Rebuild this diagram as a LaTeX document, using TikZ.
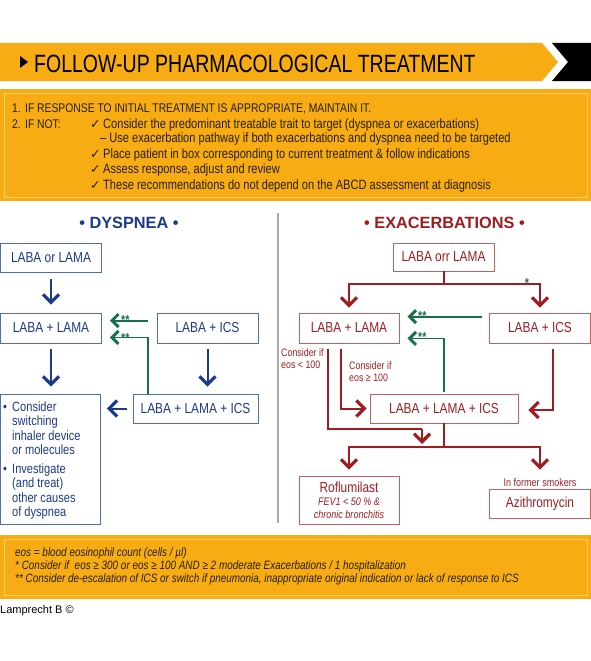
\documentclass[tikz,border=0pt]{standalone}
\usepackage{fontspec}
\setmainfont{Liberation Sans}[FakeStretch=0.82]
\newfontfamily\headfont{Liberation Sans}[FakeStretch=0.78]
\newfontfamily\plainfont{Liberation Sans}
\newfontfamily\symfont{DejaVu Sans}
\usetikzlibrary{arrows.meta,calc}
\definecolor{gold}{RGB}{246,172,18}
\definecolor{goldline}{RGB}{252,210,100}
\definecolor{navy}{RGB}{28,58,140}
\definecolor{navybox}{RGB}{80,110,175}
\definecolor{dred}{RGB}{160,28,32}
\definecolor{redbox}{RGB}{200,95,95}
\definecolor{dgreen}{RGB}{22,112,72}
\definecolor{divgray}{RGB}{170,170,170}
\definecolor{txt}{RGB}{40,32,10}
\tikzset{
  bluebox/.style={draw=navybox, line width=0.8pt, text=navy, inner sep=0pt, font=\fontsize{14.5}{16}\selectfont},
  redboxs/.style={draw=redbox, line width=0.8pt, text=dred, inner sep=0pt, font=\fontsize{14.5}{16}\selectfont},
  bchev/.style={draw=navy, line width=2pt, -{Straight Barb[length=8pt,width=16pt,line width=3.2pt]}},
  rchev/.style={draw=dred, line width=2pt, -{Straight Barb[length=8pt,width=16pt,line width=3.2pt]}},
  rline/.style={draw=dred, line width=2pt},
  gchev/.style={draw=dgreen, line width=1.8pt, -{Straight Barb[length=6.5pt,width=13pt,line width=3pt]}},
  ins/.style={anchor=base west, inner sep=0pt, text=txt, font=\fontsize{13.5}{15}\selectfont},
  inscap/.style={anchor=base west, inner sep=0pt, text=txt, font=\fontsize{12.6}{15}\selectfont},
  chk/.style={anchor=base west, inner sep=0pt, text=txt, font=\symfont\fontsize{12.5}{14}\selectfont},
  foot/.style={anchor=base west, inner sep=0pt, text=txt, font=\fontsize{12.1}{13}\selectfont\itshape},
  bl/.style={anchor=base west, inner sep=0pt, text=navy, font=\fontsize{13.5}{15}\selectfont},
  small/.style={anchor=base west, inner sep=0pt, text=dred, font=\fontsize{10.8}{12}\selectfont},
  stars/.style={anchor=base west, inner sep=0pt, text=dgreen, font=\fontsize{13}{14}\selectfont\bfseries},
}
\begin{document}
\begin{tikzpicture}[x=1pt,y=-1pt]
\useasboundingbox (0,0) rectangle (591,661);
% header
\fill[gold] (0,43) -- (542,43) -- (558,62) -- (542,81) -- (0,81) -- cycle;
\fill[black] (552,43) -- (591,43) -- (591,81) -- (552,81) -- (568,62) -- cycle;
\fill[black] (20,56) -- (28,62) -- (20,68) -- cycle;
\node[anchor=base west, inner sep=0pt, font=\headfont\fontsize{25}{28}\selectfont] (title) at (34,72) {FOLLOW-UP PHARMACOLOGICAL TREATMENT};
% instruction box
\fill[gold] (0,89) rectangle (591,201);
\draw[goldline, line width=0.9pt] (4,93) rectangle (587,197);
\node[inscap] (i1a) at (12,112) {1.};
\node[inscap] (i1b) at (25,112) {IF RESPONSE TO INITIAL TREATMENT IS APPROPRIATE, MAINTAIN IT.};
\node[inscap] (i2a) at (12,128) {2.};
\node[inscap] (i2b) at (25,128) {IF NOT:};
\node[chk] (c1) at (90,128) {✓};
\node[ins] (i2c) at (103,128) {Consider the predominant treatable trait to target (dyspnea or exacerbations)};
\node[ins] (i3) at (100,142) {– Use exacerbation pathway if both exacerbations and dyspnea need to be targeted};
\node[chk] (c2) at (90,158) {✓};
\node[ins] (i4) at (103,158) {Place patient in box corresponding to current treatment \& follow indications};
\node[chk] (c3) at (90,173) {✓};
\node[ins] (i5) at (103,173) {Assess response, adjust and review};
\node[chk] (c4) at (90,189) {✓};
\node[ins] (i6) at (103,189) {These recommendations do not depend on the ABCD assessment at diagnosis};
% section titles
\node[anchor=base, inner sep=0pt, text=navy, font=\plainfont\bfseries\fontsize{16.3}{18}\selectfont] (td) at (129,228) {• DYSPNEA •};
\node[anchor=base, inner sep=0pt, text=dred, font=\plainfont\bfseries\fontsize{16.3}{18}\selectfont] (te) at (444.5,228) {• EXACERBATIONS •};
\draw[divgray, line width=1.5pt] (278,213) -- (278,523);
% dyspnea boxes
\node[bluebox, minimum width=101pt, minimum height=29pt] (A1) at (51,257.5) {LABA or LAMA};
\node[bluebox, minimum width=101pt, minimum height=30pt] (A2) at (51,328) {LABA + LAMA};
\node[bluebox, minimum width=101pt, minimum height=30pt] (A3) at (207.5,328) {LABA + ICS};
\node[bluebox, minimum width=100pt, minimum height=130pt] (A4) at (50.5,459) {};
\node[bluebox, minimum width=125pt, minimum height=29pt] (A5) at (195.5,408.5) {LABA + LAMA + ICS};
\node[bl] (b1) at (3,411) {•};
\node[bl] (l1) at (12,411) {Consider};
\node[bl] (l2) at (12,425) {switching};
\node[bl] (l3) at (12,440) {inhaler device};
\node[bl] (l4) at (12,454) {or molecules};
\node[bl] (b2) at (3,473) {•};
\node[bl] (l5) at (12,473) {Investigate};
\node[bl] (l6) at (12,487) {(and treat)};
\node[bl] (l7) at (12,502) {other causes};
\node[bl] (l8) at (12,516) {of dyspnea};
\draw[bchev, shorten <=7pt, shorten >=8pt] (A1.south) -- (A2.north);
\draw[bchev, shorten <=6pt, shorten >=7pt] (A2.south) -- (A4.north -| A2.south);
\draw[bchev, shorten <=6pt, shorten >=7pt] (A3.south) -- (A3.south |- A5.north);
\draw[bchev, shorten <=6pt, shorten >=6pt] (A5.west) -- (A5.west -| A4.east);
\draw[gchev] ($(A3.north west)+(-9,8)$) -- ($(A2.north east)+(8,8)$);
\draw[gchev] ($(A5.north west)+(15,0)$) |- ($(A2.south east)+(8,-6)$);
\node[stars] (s1) at (121,324) {**};
\node[stars] (s2) at (121,342) {**};
% exacerbation boxes
\node[redboxs, minimum width=101pt, minimum height=28pt] (B1) at (443.5,257) {LABA orr LAMA};
\node[redboxs, minimum width=100pt, minimum height=30pt] (B2) at (349,328) {LABA + LAMA};
\node[redboxs, minimum width=101pt, minimum height=30pt] (B3) at (540,328) {LABA + ICS};
\node[redboxs, minimum width=148pt, minimum height=29pt] (B4) at (444,408.5) {LABA + LAMA + ICS};
\node[redboxs, minimum width=100pt, minimum height=48pt] (B5) at (349,500) {};
\node[anchor=base, inner sep=0pt, text=dred, font=\fontsize{14.5}{16}\selectfont] (r1) at (349,492) {Roflumilast};
\node[anchor=base, inner sep=0pt, text=dred, font=\fontsize{11}{13}\selectfont\itshape] (r2) at (349,505) {FEV1 < 50 \% \&};
\node[anchor=base, inner sep=0pt, text=dred, font=\fontsize{11}{13}\selectfont\itshape] (r3) at (349,518) {chronic bronchitis};
\node[redboxs, minimum width=101pt, minimum height=29pt] (B6) at (540,503.5) {Azithromycin};
\node[anchor=base, inner sep=0pt, text=dred, font=\fontsize{11}{13}\selectfont] (fs) at (540,486) {In former smokers};
% red connectors
\coordinate (j1) at ($(B1.south)+(0,13)$);
\draw[rline] (B1.south) -- (j1);
\draw[rchev, shorten >=5pt] (j1) -| (B2.north);
\draw[rchev, shorten >=5pt] (j1) -| (B3.north);
\node[stars, anchor=base] (s3) at (527,287) {*};
\draw[rchev, shorten >=3pt] ($(B2.south)+(-8,6)$) |- (B4.west);
\coordinate (m) at (422,429);
\draw[rline] ($(B2.south)+(-21,6)$) |- (m);
\draw[rchev] (m) -- (422,444);
\draw[rchev] ($(B3.south)+(13,6)$) |- ($(B4.east)+(10,1.5)$);
\coordinate (j2) at ($(B4.south)+(0,24)$);
\draw[rline] (B4.south) -- (j2);
\draw[rchev, shorten >=6pt] (j2) -| (B5.north);
\draw[rchev] (j2) -| ($(B6.north)+(0,-19)$);
\draw[gchev] ($(B3.north west)+(-7,4)$) -- ($(B2.north east)+(8,4)$);
\draw[gchev, shorten <=2pt] (B4.north) |- ($(B2.south east)+(8,-5)$);
\node[stars] (s4) at (418,320) {**};
\node[stars] (s5) at (418,341) {**};
\node[small] (k1) at (281,356) {Consider if};
\node[small] (k2) at (281,368) {eos < 100};
\node[small] (k3) at (349,369) {Consider if};
\node[small] (k4) at (349,381) {eos ≥ 100};
% footnote box
\fill[gold] (0,535) rectangle (591,599);
\draw[goldline, line width=0.9pt] (4,539) rectangle (587,595);
\node[foot] (f1) at (15,556) {eos = blood eosinophil count (cells / µl)};
\node[foot] (f2) at (15,569) {* Consider if\ \ eos ≥ 300 or eos ≥ 100 AND ≥ 2 moderate Exacerbations / 1 hospitalization};
\node[foot] (f3) at (15,582) {** Consider de-escalation of ICS or switch if pneumonia, inappropriate original indication or lack of response to ICS};
\node[anchor=base west, inner sep=0pt, font=\plainfont\fontsize{11}{13}\selectfont] (cr) at (0,613) {Lamprecht B ©};
\end{tikzpicture}
\end{document}
